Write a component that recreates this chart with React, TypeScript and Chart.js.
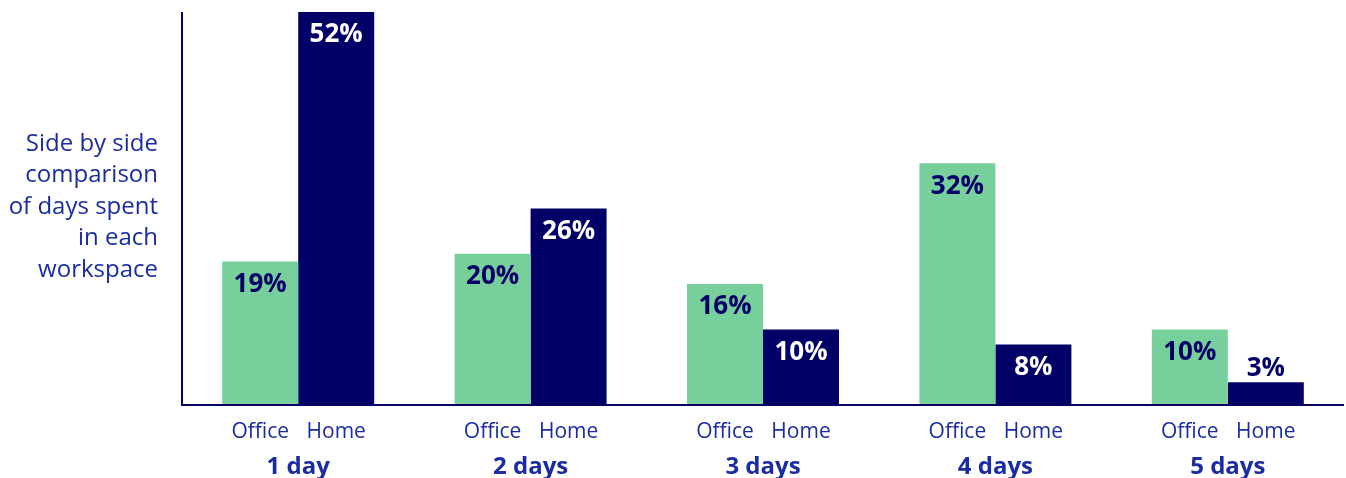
import React, { useEffect, useRef } from "react";
import { Chart, registerables } from "chart.js";

Chart.register(...registerables);

const categories = ["1 day", "2 days", "3 days", "4 days", "5 days"];
const seriesNames = ["Office", "Home"];
const officeValues = [19, 20, 16, 32, 10];
const homeValues = [52, 26, 10, 8, 3];
const titleLines = ["Side by side", "comparison", "of days spent", "in each", "workspace"];

const GREEN = "#77cf9c";
const NAVY = "#020066";
const TEXT_BLUE = "#1a2ca0";
const FONT = "'Open Sans', sans-serif";

const overlay = {
  id: "overlay",
  afterDatasetsDraw(chart: any) {
    const ctx = chart.ctx;
    const area = chart.chartArea;
    ctx.save();
    ctx.strokeStyle = NAVY;
    ctx.lineWidth = 2;
    ctx.beginPath();
    ctx.moveTo(area.left, area.top);
    ctx.lineTo(area.left, area.bottom);
    ctx.lineTo(area.right, area.bottom);
    ctx.stroke();

    ctx.textAlign = "center";
    ctx.textBaseline = "middle";
    chart.data.datasets.forEach((ds: any, di: number) => {
      const meta = chart.getDatasetMeta(di);
      meta.data.forEach((bar: any, i: number) => {
        const v = ds.data[i];
        const h = bar.base - bar.y;
        let y: number;
        let color: string;
        if (h > 40) {
          y = bar.y + 23;
          color = di === 0 ? NAVY : "#ffffff";
        } else {
          y = bar.y - 14;
          color = NAVY;
        }
        ctx.font = `bold 26px ${FONT}`;
        ctx.fillStyle = color;
        ctx.fillText(`${v}%`, bar.x, y);
        ctx.font = `21px ${FONT}`;
        ctx.fillStyle = TEXT_BLUE;
        ctx.fillText(seriesNames[di], bar.x, area.bottom + 27);
      });
    });

    const xs = chart.scales.x;
    ctx.font = `bold 24px ${FONT}`;
    ctx.fillStyle = TEXT_BLUE;
    categories.forEach((c, i) => {
      ctx.fillText(c, xs.getPixelForValue(i), area.bottom + 62);
    });

    ctx.font = `24px ${FONT}`;
    ctx.textAlign = "right";
    const lh = 31.5;
    const cy = 207;
    titleLines.forEach((t, i) => {
      ctx.fillText(t, 158, cy + (i - (titleLines.length - 1) / 2) * lh);
    });
    ctx.restore();
  },
};

export default function App() {
  const ref = useRef<HTMLCanvasElement>(null);
  useEffect(() => {
    if (!ref.current) return;
    const chart = new Chart(ref.current, {
      type: "bar",
      data: {
        labels: categories,
        datasets: [
          { label: seriesNames[0], data: officeValues, backgroundColor: GREEN, categoryPercentage: 0.654, barPercentage: 1 },
          { label: seriesNames[1], data: homeValues, backgroundColor: NAVY, categoryPercentage: 0.654, barPercentage: 1 },
        ],
      },
      options: {
        animation: false,
        responsive: false,
        maintainAspectRatio: false,
        layout: { padding: { left: 182, right: 2, top: 12, bottom: 73 } },
        plugins: { legend: { display: false }, tooltip: { enabled: false } },
        scales: {
          x: { display: false },
          y: { display: false, min: 0, max: 52 },
        },
      },
      plugins: [overlay],
    });
    return () => chart.destroy();
  }, []);
  return (
    <div style={{ position: "absolute", left: 0, top: 0, width: 1346, height: 478, background: "#fff" }}>
      <canvas ref={ref} width={1346} height={478} style={{ width: 1346, height: 478 }} />
    </div>
  );
}
